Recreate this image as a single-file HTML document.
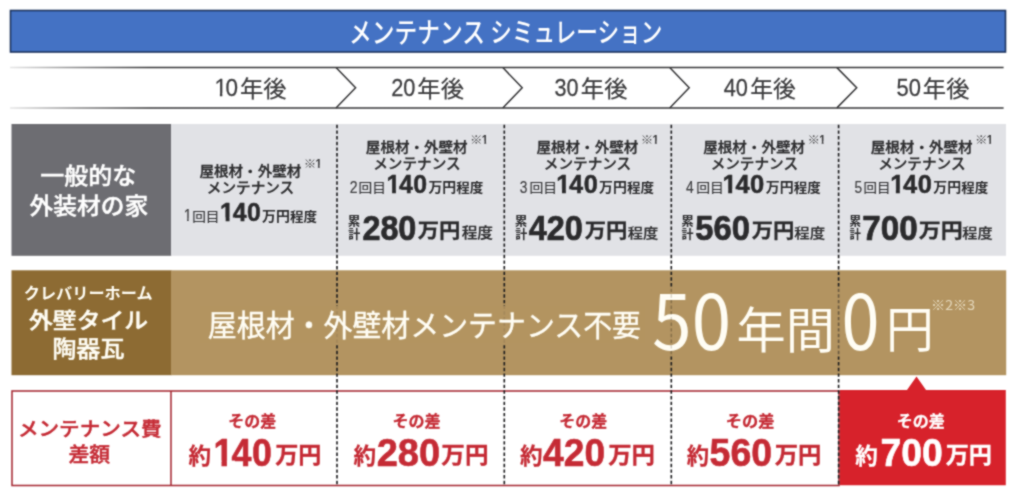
<!DOCTYPE html>
<html lang="ja">
<head>
<meta charset="utf-8">
<title>メンテナンス シミュレーション</title>
<style>
html,body{margin:0;padding:0;background:#fff;}
body{width:1024px;height:496px;overflow:hidden;font-family:"Liberation Sans","Noto Sans CJK JP",sans-serif;}
svg{display:block;}
text{white-space:pre;}
text.j{font-family:"Noto Sans CJK JP",sans-serif;}
text.l{font-family:"Liberation Sans","Noto Sans CJK JP",sans-serif;}
</style>
</head>
<body>
<svg width="1024" height="496" viewBox="0 0 1024 496">
<filter id="soft" x="0" y="0" width="1024" height="496" filterUnits="userSpaceOnUse" color-interpolation-filters="sRGB"><feConvolveMatrix order="3" kernelMatrix="1 2 1 2 8 2 1 2 1" divisor="20" edgeMode="duplicate" preserveAlpha="true"/></filter>
<g filter="url(#soft)">
<rect x="0" y="0" width="1024" height="496" fill="#ffffff"/>
<!-- title bar -->
<rect x="10.5" y="10.5" width="995" height="41.5" fill="#4472c4" stroke="#1c335e" stroke-width="1.6"/>
<!-- timeline -->
<linearGradient id="fade" gradientUnits="userSpaceOnUse" x1="10" y1="0" x2="150" y2="0"><stop offset="0" stop-color="#363638" stop-opacity="0.12"/><stop offset="0.5" stop-color="#363638" stop-opacity="0.6"/><stop offset="1" stop-color="#363638" stop-opacity="1"/></linearGradient>
<g fill="none" stroke="#363638" stroke-width="1.5">
<path d="M10 67.6H1003.6" stroke="url(#fade)"/>
<path d="M10 107.9H1003.6" stroke="url(#fade)"/>
<path d="M336 67.6L355.6 87.8L336 107.9"/>
<path d="M502.8 67.6L522.2 87.8L502.8 107.9"/>
<path d="M669.7 67.6L689.2 87.8L669.7 107.9"/>
<path d="M836.9 67.6L856.7 87.8L836.9 107.9"/>
</g>
<!-- gray row -->
<rect x="11.5" y="124" width="160" height="131.8" fill="#6d6d72"/>
<rect x="171" y="124" width="835" height="131.8" fill="#e1e2e6"/>
<!-- brown row -->
<rect x="11.5" y="270.3" width="160" height="104.9" fill="#8d6b33"/>
<rect x="171" y="270.3" width="835.2" height="104.9" fill="#b39461"/>
<!-- red row -->
<rect x="12" y="391" width="827" height="94.5" fill="#ffffff" stroke="#a62a34" stroke-width="1.55"/>
<path d="M171 391V485.5" stroke="#a62a34" stroke-width="1.55" fill="none"/>
<path d="M839.8 390.1H907L916.5 376.6L926 390.1H1005.8V485.3H839.8Z" fill="#d7222b"/>
<!-- dashed separators -->
<g stroke="#1a1a1c" stroke-width="1.6" stroke-dasharray="3.4 2.25" fill="none">
<path d="M337 124.8V485"/>
<path d="M504.3 124.8V485"/>
<path d="M671.3 124.8V485"/>
<path d="M838.6 124.8V485"/>
</g>
<!-- text bands over separators -->
<rect x="200" y="306" width="445" height="37" fill="#b39461" opacity="0.9"/>
<rect x="648" y="287" width="188" height="69" fill="#b39461" opacity="0.85"/>
<rect x="836" y="287" width="6" height="69" fill="#b39461" opacity="0.5"/>

<g>
<defs>
<clipPath id="c1"><rect x="-7.16" y="-31.03" width="95.48" height="27.94"/><rect x="5.79" y="-4.09" width="2.52" height="7.16"/><rect x="13.37" y="-4.09" width="95.48" height="7.16"/></clipPath>
<clipPath id="c2"><rect x="-3.56" y="-15.44" width="47.52" height="12.93"/><rect x="2.59" y="-3.51" width="1.99" height="3.56"/><rect x="7.13" y="-3.51" width="47.52" height="3.56"/></clipPath>
<clipPath id="c3"><rect x="-4.67" y="-20.25" width="62.32" height="17.79"/><rect x="3.73" y="-3.47" width="1.75" height="4.67"/><rect x="8.72" y="-3.47" width="62.32" height="4.67"/></clipPath>
<clipPath id="c4"><rect x="-7.52" y="-32.59" width="100.28" height="28.73"/><rect x="5.64" y="-4.86" width="3.86" height="7.52"/><rect x="15.04" y="-4.86" width="100.28" height="7.52"/></clipPath>
<clipPath id="c5"><rect x="-11.74" y="-50.90" width="156.60" height="45.60"/><rect x="8.89" y="-6.29" width="5.86" height="11.74"/><rect x="23.49" y="-6.29" width="156.60" height="11.74"/></clipPath>
</defs>
<g id="title">
<text class="j" transform="translate(349.10 42.71) scale(0.8093 1)" font-weight="500" font-size="28.10" fill="#ffffff">メンテナンス</text>
<text class="j" transform="translate(490.34 42.29) scale(0.7925 1)" font-weight="500" font-size="27.29" fill="#ffffff">シミュレーション</text>
</g>
<g id="timeline">
<text class="l" transform="translate(214.48 96.24) scale(0.9413 1)" font-weight="400" font-size="23.87" fill="#3c3c3e" stroke="#3c3c3e" stroke-width="0.26" stroke-linejoin="round" dx="0.00 -1.60" clip-path="url(#c1)">10</text>
<text class="j" transform="translate(239.93 96.96) scale(1.0140 1)" font-weight="400" font-size="23.01" fill="#3c3c3e" stroke="#3c3c3e" stroke-width="0.20" stroke-linejoin="round">年後</text>
<text class="l" transform="translate(391.23 96.24) scale(0.9137 1)" font-weight="400" font-size="23.87" fill="#3c3c3e" stroke="#3c3c3e" stroke-width="0.26" stroke-linejoin="round">20</text>
<text class="j" transform="translate(417.33 96.96) scale(1.0140 1)" font-weight="400" font-size="23.01" fill="#3c3c3e" stroke="#3c3c3e" stroke-width="0.20" stroke-linejoin="round">年後</text>
<text class="l" transform="translate(554.56 96.24) scale(0.9049 1)" font-weight="400" font-size="23.87" fill="#3c3c3e" stroke="#3c3c3e" stroke-width="0.26" stroke-linejoin="round">30</text>
<text class="j" transform="translate(580.83 96.96) scale(1.0140 1)" font-weight="400" font-size="23.01" fill="#3c3c3e" stroke="#3c3c3e" stroke-width="0.20" stroke-linejoin="round">年後</text>
<text class="l" transform="translate(723.69 96.24) scale(0.9116 1)" font-weight="400" font-size="23.87" fill="#3c3c3e" stroke="#3c3c3e" stroke-width="0.26" stroke-linejoin="round">40</text>
<text class="j" transform="translate(750.21 96.96) scale(0.9925 1)" font-weight="400" font-size="23.01" fill="#3c3c3e" stroke="#3c3c3e" stroke-width="0.20" stroke-linejoin="round">年後</text>
<text class="l" transform="translate(896.50 96.24) scale(0.9191 1)" font-weight="400" font-size="23.87" fill="#3c3c3e" stroke="#3c3c3e" stroke-width="0.26" stroke-linejoin="round">50</text>
<text class="j" transform="translate(922.83 96.96) scale(1.0140 1)" font-weight="400" font-size="23.01" fill="#3c3c3e" stroke="#3c3c3e" stroke-width="0.20" stroke-linejoin="round">年後</text>
</g>
<g id="general-label">
<text class="j" transform="translate(40.27 183.71) scale(1.0463 1)" font-weight="500" font-size="22.93" fill="#ffffff" stroke="#ffffff" stroke-width="0.44" stroke-linejoin="round">一般的な</text>
<text class="j" transform="translate(29.51 213.71) scale(1.0356 1)" font-weight="500" font-size="22.93" fill="#ffffff" stroke="#ffffff" stroke-width="0.44" stroke-linejoin="round">外装材の家</text>
</g>
<g id="general-10y">
<text class="j" transform="translate(199.47 176.01) scale(1.0614 1)" font-weight="500" font-size="13.72" fill="#2b2b2d" stroke="#2b2b2d" stroke-width="0.29" stroke-linejoin="round">屋根材・外壁材</text>
<text class="j" transform="translate(303.65 168.12) scale(1.1111 1)" font-weight="500" font-size="11.25" fill="#4a4a4c">※</text>
<text class="l" transform="translate(315.41 167.60) scale(0.9537 1)" font-weight="700" font-size="11.88" fill="#3a3a3c" clip-path="url(#c2)">1</text>
<text class="j" transform="translate(206.84 192.89) scale(1.0155 1)" font-weight="500" font-size="14.40" fill="#2b2b2d" stroke="#2b2b2d" stroke-width="0.30" stroke-linejoin="round">メンテナンス</text>
<text class="l" transform="translate(183.64 221.03) scale(0.9227 1)" font-weight="400" font-size="15.58" fill="#3c3c3e" stroke="#3c3c3e" stroke-width="0.16" stroke-linejoin="round" clip-path="url(#c3)">1</text>
<text class="j" transform="translate(192.18 220.50) scale(1.0689 1)" font-weight="400" font-size="12.78" fill="#353537" stroke="#353537" stroke-width="0.15" stroke-linejoin="round">回目</text>
<text class="l" transform="translate(220.12 221.40) scale(0.9881 1)" font-weight="700" font-size="25.07" fill="#2b2b2d" stroke="#2b2b2d" stroke-width="0.50" stroke-linejoin="round" dx="0.00 -1.25 0.50" clip-path="url(#c4)">140</text>
<text class="j" transform="translate(262.02 220.56) scale(1.0129 1)" font-weight="700" font-size="13.75" fill="#2b2b2d">万円</text>
<text class="j" transform="translate(289.93 220.53) scale(1.0629 1)" font-weight="700" font-size="12.74" fill="#2b2b2d">程度</text>
</g>
<g id="general-20y">
<text class="j" transform="translate(365.87 152.01) scale(1.0614 1)" font-weight="500" font-size="13.72" fill="#2b2b2d" stroke="#2b2b2d" stroke-width="0.29" stroke-linejoin="round">屋根材・外壁材</text>
<text class="j" transform="translate(470.05 144.12) scale(1.1111 1)" font-weight="500" font-size="11.25" fill="#4a4a4c">※</text>
<text class="l" transform="translate(481.81 143.60) scale(0.9537 1)" font-weight="700" font-size="11.88" fill="#3a3a3c" clip-path="url(#c2)">1</text>
<text class="j" transform="translate(373.24 169.19) scale(1.0155 1)" font-weight="500" font-size="14.40" fill="#2b2b2d" stroke="#2b2b2d" stroke-width="0.30" stroke-linejoin="round">メンテナンス</text>
<text class="l" transform="translate(349.77 193.12) scale(0.8572 1)" font-weight="400" font-size="16.36" fill="#3c3c3e" stroke="#3c3c3e" stroke-width="0.16" stroke-linejoin="round">2</text>
<text class="j" transform="translate(358.58 192.10) scale(1.0689 1)" font-weight="400" font-size="12.78" fill="#353537" stroke="#353537" stroke-width="0.15" stroke-linejoin="round">回目</text>
<text class="l" transform="translate(386.52 193.00) scale(0.9881 1)" font-weight="700" font-size="25.07" fill="#2b2b2d" stroke="#2b2b2d" stroke-width="0.50" stroke-linejoin="round" dx="0.00 -1.25 0.50" clip-path="url(#c4)">140</text>
<text class="j" transform="translate(428.42 192.16) scale(1.0129 1)" font-weight="700" font-size="13.75" fill="#2b2b2d">万円</text>
<text class="j" transform="translate(456.33 192.13) scale(1.0629 1)" font-weight="700" font-size="12.74" fill="#2b2b2d">程度</text>
</g>
<g id="general-30y">
<text class="j" transform="translate(536.47 152.01) scale(1.0614 1)" font-weight="500" font-size="13.72" fill="#2b2b2d" stroke="#2b2b2d" stroke-width="0.29" stroke-linejoin="round">屋根材・外壁材</text>
<text class="j" transform="translate(640.65 144.12) scale(1.1111 1)" font-weight="500" font-size="11.25" fill="#4a4a4c">※</text>
<text class="l" transform="translate(652.41 143.60) scale(0.9537 1)" font-weight="700" font-size="11.88" fill="#3a3a3c" clip-path="url(#c2)">1</text>
<text class="j" transform="translate(543.84 169.19) scale(1.0155 1)" font-weight="500" font-size="14.40" fill="#2b2b2d" stroke="#2b2b2d" stroke-width="0.30" stroke-linejoin="round">メンテナンス</text>
<text class="l" transform="translate(519.63 192.96) scale(0.8510 1)" font-weight="400" font-size="16.13" fill="#3c3c3e" stroke="#3c3c3e" stroke-width="0.16" stroke-linejoin="round">3</text>
<text class="j" transform="translate(529.47 192.10) scale(1.0822 1)" font-weight="400" font-size="12.78" fill="#353537" stroke="#353537" stroke-width="0.14" stroke-linejoin="round">回目</text>
<text class="l" transform="translate(556.28 193.00) scale(1.0089 1)" font-weight="700" font-size="25.07" fill="#2b2b2d" stroke="#2b2b2d" stroke-width="0.50" stroke-linejoin="round" dx="0.00 -1.25 0.50" clip-path="url(#c4)">140</text>
<text class="j" transform="translate(599.02 192.16) scale(1.0129 1)" font-weight="700" font-size="13.75" fill="#2b2b2d">万円</text>
<text class="j" transform="translate(626.93 192.13) scale(1.0629 1)" font-weight="700" font-size="12.74" fill="#2b2b2d">程度</text>
</g>
<g id="general-40y">
<text class="j" transform="translate(703.27 152.01) scale(1.0614 1)" font-weight="500" font-size="13.72" fill="#2b2b2d" stroke="#2b2b2d" stroke-width="0.29" stroke-linejoin="round">屋根材・外壁材</text>
<text class="j" transform="translate(807.45 144.12) scale(1.1111 1)" font-weight="500" font-size="11.25" fill="#4a4a4c">※</text>
<text class="l" transform="translate(819.21 143.60) scale(0.9537 1)" font-weight="700" font-size="11.88" fill="#3a3a3c" clip-path="url(#c2)">1</text>
<text class="j" transform="translate(710.64 169.19) scale(1.0155 1)" font-weight="500" font-size="14.40" fill="#2b2b2d" stroke="#2b2b2d" stroke-width="0.30" stroke-linejoin="round">メンテナンス</text>
<text class="l" transform="translate(686.00 193.29) scale(0.8210 1)" font-weight="400" font-size="16.84" fill="#3c3c3e" stroke="#3c3c3e" stroke-width="0.16" stroke-linejoin="round">4</text>
<text class="j" transform="translate(696.27 192.10) scale(1.0822 1)" font-weight="400" font-size="12.78" fill="#353537" stroke="#353537" stroke-width="0.14" stroke-linejoin="round">回目</text>
<text class="l" transform="translate(722.46 193.00) scale(1.0194 1)" font-weight="700" font-size="25.07" fill="#2b2b2d" stroke="#2b2b2d" stroke-width="0.50" stroke-linejoin="round" dx="0.00 -1.25 0.50" clip-path="url(#c4)">140</text>
<text class="j" transform="translate(765.82 192.16) scale(1.0129 1)" font-weight="700" font-size="13.75" fill="#2b2b2d">万円</text>
<text class="j" transform="translate(793.73 192.13) scale(1.0629 1)" font-weight="700" font-size="12.74" fill="#2b2b2d">程度</text>
</g>
<g id="general-50y">
<text class="j" transform="translate(870.77 152.01) scale(1.0614 1)" font-weight="500" font-size="13.72" fill="#2b2b2d" stroke="#2b2b2d" stroke-width="0.29" stroke-linejoin="round">屋根材・外壁材</text>
<text class="j" transform="translate(974.95 144.12) scale(1.1111 1)" font-weight="500" font-size="11.25" fill="#4a4a4c">※</text>
<text class="l" transform="translate(986.71 143.60) scale(0.9537 1)" font-weight="700" font-size="11.88" fill="#3a3a3c" clip-path="url(#c2)">1</text>
<text class="j" transform="translate(878.14 169.19) scale(1.0155 1)" font-weight="500" font-size="14.40" fill="#2b2b2d" stroke="#2b2b2d" stroke-width="0.30" stroke-linejoin="round">メンテナンス</text>
<text class="l" transform="translate(854.53 192.96) scale(0.8390 1)" font-weight="400" font-size="16.36" fill="#3c3c3e" stroke="#3c3c3e" stroke-width="0.16" stroke-linejoin="round">5</text>
<text class="j" transform="translate(863.50 192.10) scale(1.0556 1)" font-weight="400" font-size="12.78" fill="#353537" stroke="#353537" stroke-width="0.15" stroke-linejoin="round">回目</text>
<text class="l" transform="translate(890.17 193.00) scale(1.0141 1)" font-weight="700" font-size="25.07" fill="#2b2b2d" stroke="#2b2b2d" stroke-width="0.50" stroke-linejoin="round" dx="0.00 -1.25 0.50" clip-path="url(#c4)">140</text>
<text class="j" transform="translate(933.32 192.16) scale(1.0129 1)" font-weight="700" font-size="13.75" fill="#2b2b2d">万円</text>
<text class="j" transform="translate(961.23 192.13) scale(1.0629 1)" font-weight="700" font-size="12.74" fill="#2b2b2d">程度</text>
</g>
<g id="general-20y-total">
<text class="j" transform="translate(347.87 225.82) scale(1.0575 1)" font-weight="700" font-size="11.98" fill="#2b2b2d">累</text>
<text class="j" transform="translate(348.14 239.11) scale(0.9895 1)" font-weight="700" font-size="12.13" fill="#2b2b2d">計</text>
<text class="l" transform="translate(362.38 239.81) scale(0.9459 1)" font-weight="700" font-size="34.23" fill="#2b2b2d" stroke="#2b2b2d" stroke-width="0.72" stroke-linejoin="round">280</text>
<text class="j" transform="translate(417.72 238.22) scale(1.0502 1)" font-weight="700" font-size="20.34" fill="#2b2b2d" stroke="#2b2b2d" stroke-width="0.29" stroke-linejoin="round">万円</text>
<text class="j" transform="translate(461.63 238.42) scale(1.1013 1)" font-weight="500" font-size="14.26" fill="#2b2b2d" stroke="#2b2b2d" stroke-width="0.19" stroke-linejoin="round">程度</text>
</g>
<g id="general-30y-total">
<text class="j" transform="translate(514.87 225.82) scale(1.0575 1)" font-weight="700" font-size="11.98" fill="#2b2b2d">累</text>
<text class="j" transform="translate(515.14 239.11) scale(0.9895 1)" font-weight="700" font-size="12.13" fill="#2b2b2d">計</text>
<text class="l" transform="translate(528.70 239.81) scale(0.9491 1)" font-weight="700" font-size="34.23" fill="#2b2b2d" stroke="#2b2b2d" stroke-width="0.72" stroke-linejoin="round">420</text>
<text class="j" transform="translate(584.72 238.22) scale(1.0502 1)" font-weight="700" font-size="20.34" fill="#2b2b2d" stroke="#2b2b2d" stroke-width="0.29" stroke-linejoin="round">万円</text>
<text class="j" transform="translate(627.64 238.26) scale(1.1052 1)" font-weight="500" font-size="13.83" fill="#2b2b2d" stroke="#2b2b2d" stroke-width="0.19" stroke-linejoin="round">程度</text>
</g>
<g id="general-40y-total">
<text class="j" transform="translate(681.27 225.82) scale(1.0575 1)" font-weight="700" font-size="11.98" fill="#2b2b2d">累</text>
<text class="j" transform="translate(681.54 239.11) scale(0.9895 1)" font-weight="700" font-size="12.13" fill="#2b2b2d">計</text>
<text class="l" transform="translate(695.17 239.81) scale(0.9587 1)" font-weight="700" font-size="34.23" fill="#2b2b2d" stroke="#2b2b2d" stroke-width="0.71" stroke-linejoin="round">560</text>
<text class="j" transform="translate(751.72 238.22) scale(1.0502 1)" font-weight="700" font-size="20.34" fill="#2b2b2d" stroke="#2b2b2d" stroke-width="0.29" stroke-linejoin="round">万円</text>
<text class="j" transform="translate(794.34 238.26) scale(1.1165 1)" font-weight="500" font-size="13.83" fill="#2b2b2d" stroke="#2b2b2d" stroke-width="0.19" stroke-linejoin="round">程度</text>
</g>
<g id="general-50y-total">
<text class="j" transform="translate(849.20 225.82) scale(1.0018 1)" font-weight="700" font-size="11.98" fill="#2b2b2d">累</text>
<text class="j" transform="translate(849.46 239.11) scale(0.9374 1)" font-weight="700" font-size="12.13" fill="#2b2b2d">計</text>
<text class="l" transform="translate(862.22 239.80) scale(0.9584 1)" font-weight="700" font-size="34.65" fill="#2b2b2d" stroke="#2b2b2d" stroke-width="0.71" stroke-linejoin="round">700</text>
<text class="j" transform="translate(918.71 238.22) scale(1.0810 1)" font-weight="700" font-size="20.34" fill="#2b2b2d" stroke="#2b2b2d" stroke-width="0.29" stroke-linejoin="round">万円</text>
<text class="j" transform="translate(962.34 238.26) scale(1.0977 1)" font-weight="500" font-size="13.83" fill="#2b2b2d" stroke="#2b2b2d" stroke-width="0.19" stroke-linejoin="round">程度</text>
</g>
<g id="cleverly-label">
<text class="j" transform="translate(23.70 298.88) scale(1.0166 1)" font-weight="700" font-size="15.93" fill="#fffdf4">クレバリーホーム</text>
<text class="j" transform="translate(29.01 327.81) scale(1.0907 1)" font-weight="500" font-size="21.86" fill="#fffdf4" stroke="#fffdf4" stroke-width="0.43" stroke-linejoin="round">外壁タイル</text>
<text class="j" transform="translate(52.30 357.19) scale(1.0386 1)" font-weight="500" font-size="23.17" fill="#fffdf4" stroke="#fffdf4" stroke-width="0.44" stroke-linejoin="round">陶器瓦</text>
</g>
<g id="cleverly-message">
<text class="j" transform="translate(207.79 335.90) scale(0.9839 1)" font-weight="400" font-size="29.41" fill="#fffdf4" stroke="#fffdf4" stroke-width="0.40" stroke-linejoin="round">屋根材・外壁材メンテナンス不要</text>
<text class="j" transform="translate(652.37 349.73) scale(0.9242 1)" font-weight="400" font-size="76.69" fill="#fffdf4">50</text>
<text class="j" transform="translate(736.54 347.90) scale(1.0053 1)" font-weight="400" font-size="48.94" fill="#fffdf4">年間</text>
<text class="j" transform="translate(841.58 349.73) scale(0.8929 1)" font-weight="400" font-size="76.69" fill="#fffdf4">0</text>
<text class="j" transform="translate(886.00 347.35) scale(0.9680 1)" font-weight="400" font-size="49.41" fill="#fffdf4">円</text>
<text class="j" transform="translate(931.02 309.87) scale(1.0773 1)" font-weight="400" font-size="13.16" fill="#e4d8bc">※2※3</text>
</g>
<g id="diff-label">
<text class="j" transform="translate(17.96 435.82) scale(1.0542 1)" font-weight="500" font-size="19.52" fill="#c52b35" stroke="#c52b35" stroke-width="0.44" stroke-linejoin="round">メンテナンス費</text>
<text class="j" transform="translate(68.39 461.95) scale(1.0314 1)" font-weight="500" font-size="20.27" fill="#c52b35" stroke="#c52b35" stroke-width="0.44" stroke-linejoin="round">差額</text>
</g>
<g id="diff-10y">
<text class="j" transform="translate(228.21 427.03) scale(1.0120 1)" font-weight="700" font-size="15.79" fill="#c52b35" stroke="#c52b35" stroke-width="0.30" stroke-linejoin="round">その差</text>
<text class="j" transform="translate(188.40 463.55) scale(0.9942 1)" font-weight="700" font-size="22.77" fill="#c52b35" stroke="#c52b35" stroke-width="0.20" stroke-linejoin="round">約</text>
<text class="l" transform="translate(213.39 465.71) scale(0.9148 1)" font-weight="700" font-size="39.15" fill="#c52b35" stroke="#c52b35" stroke-width="0.63" stroke-linejoin="round" dx="0.00 -1.96 0.78" clip-path="url(#c5)">140</text>
<text class="j" transform="translate(275.19 463.47) scale(1.0032 1)" font-weight="700" font-size="23.07" fill="#c52b35" stroke="#c52b35" stroke-width="0.30" stroke-linejoin="round">万円</text>
</g>
<g id="diff-20y">
<text class="j" transform="translate(392.45 427.03) scale(1.0175 1)" font-weight="700" font-size="15.79" fill="#c52b35" stroke="#c52b35" stroke-width="0.30" stroke-linejoin="round">その差</text>
<text class="j" transform="translate(353.40 463.55) scale(0.9942 1)" font-weight="700" font-size="22.77" fill="#c52b35" stroke="#c52b35" stroke-width="0.20" stroke-linejoin="round">約</text>
<text class="l" transform="translate(376.66 465.71) scale(0.9721 1)" font-weight="700" font-size="39.15" fill="#c52b35" stroke="#c52b35" stroke-width="0.61" stroke-linejoin="round">280</text>
<text class="j" transform="translate(441.28 463.47) scale(1.0236 1)" font-weight="700" font-size="23.07" fill="#c52b35" stroke="#c52b35" stroke-width="0.30" stroke-linejoin="round">万円</text>
</g>
<g id="diff-30y">
<text class="j" transform="translate(559.21 427.03) scale(1.0120 1)" font-weight="700" font-size="15.79" fill="#c52b35" stroke="#c52b35" stroke-width="0.30" stroke-linejoin="round">その差</text>
<text class="j" transform="translate(519.90 463.55) scale(0.9942 1)" font-weight="700" font-size="22.77" fill="#c52b35" stroke="#c52b35" stroke-width="0.20" stroke-linejoin="round">約</text>
<text class="l" transform="translate(543.06 465.71) scale(0.9502 1)" font-weight="700" font-size="39.15" fill="#c52b35" stroke="#c52b35" stroke-width="0.62" stroke-linejoin="round">420</text>
<text class="j" transform="translate(608.18 463.47) scale(1.0145 1)" font-weight="700" font-size="23.07" fill="#c52b35" stroke="#c52b35" stroke-width="0.30" stroke-linejoin="round">万円</text>
</g>
<g id="diff-40y">
<text class="j" transform="translate(725.69 427.03) scale(1.0286 1)" font-weight="700" font-size="15.79" fill="#c52b35" stroke="#c52b35" stroke-width="0.30" stroke-linejoin="round">その差</text>
<text class="j" transform="translate(686.65 463.55) scale(0.9824 1)" font-weight="700" font-size="22.77" fill="#c52b35" stroke="#c52b35" stroke-width="0.20" stroke-linejoin="round">約</text>
<text class="l" transform="translate(709.57 465.71) scale(0.9577 1)" font-weight="700" font-size="39.15" fill="#c52b35" stroke="#c52b35" stroke-width="0.61" stroke-linejoin="round">560</text>
<text class="j" transform="translate(774.68 463.47) scale(1.0145 1)" font-weight="700" font-size="23.07" fill="#c52b35" stroke="#c52b35" stroke-width="0.30" stroke-linejoin="round">万円</text>
</g>
<g id="diff-50y">
<text class="j" transform="translate(896.70 427.03) scale(1.0175 1)" font-weight="700" font-size="15.79" fill="#ffffff" stroke="#ffffff" stroke-width="0.30" stroke-linejoin="round">その差</text>
<text class="j" transform="translate(855.15 463.55) scale(0.9942 1)" font-weight="700" font-size="22.77" fill="#ffffff" stroke="#ffffff" stroke-width="0.20" stroke-linejoin="round">約</text>
<text class="l" transform="translate(880.56 465.71) scale(0.9541 1)" font-weight="700" font-size="39.15" fill="#ffffff" stroke="#ffffff" stroke-width="0.61" stroke-linejoin="round">700</text>
<text class="j" transform="translate(945.69 463.47) scale(1.0032 1)" font-weight="700" font-size="23.07" fill="#ffffff" stroke="#ffffff" stroke-width="0.30" stroke-linejoin="round">万円</text>
</g>
</g>
<path d="M671.3 124.8V485" stroke="#3a2c14" stroke-width="1.3" stroke-dasharray="3.4 2.25" fill="none" opacity="0.22" clip-path="url(#band)"/>
<clipPath id="band"><rect x="660" y="287" width="20" height="69"/></clipPath>

</g>
</svg>
</body>
</html>
